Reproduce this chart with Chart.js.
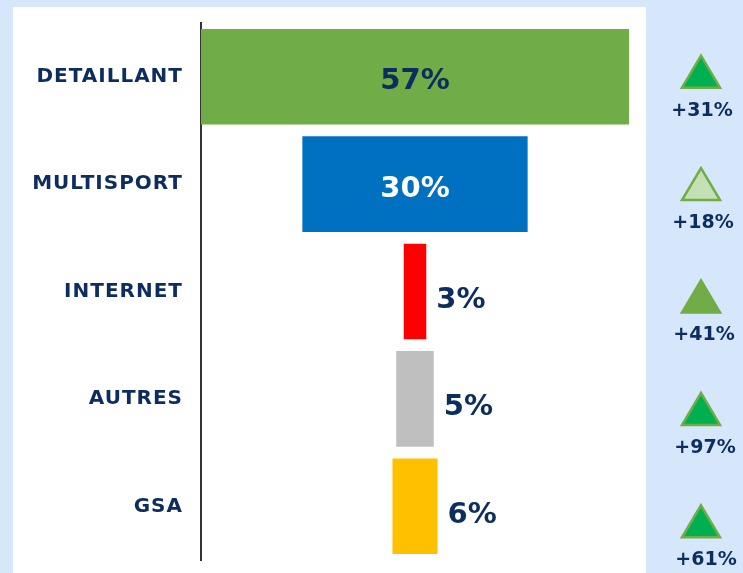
<!DOCTYPE html>
<html>
<head>
<meta charset="utf-8">
<script src="https://cdn.jsdelivr.net/npm/chart.js@4"></script>
<style>
  html, body { margin: 0; padding: 0; background: #d6e6fb; }
  #wrap { position: relative; width: 743px; height: 573px; overflow: hidden; }
  #panel { position: absolute; left: 13px; top: 7px; width: 633px; height: 580px; background: #fff; }
  #chart { position: absolute; left: 0; top: 0; }
</style>
</head>
<body>
<div id="wrap">
  <div id="panel"></div>
  <canvas id="chart" width="743" height="573"></canvas>
</div>
<script>
const categories = ['DETAILLANT', 'MULTISPORT', 'INTERNET', 'AUTRES', 'GSA'];
const shares = [57, 30, 3, 5, 6];
const changes = ['+31%', '+18%', '+41%', '+97%', '+61%'];

const NAVY = '#0c2d5e';
const barColors = ['#70ad47', '#0070c0', '#ff0000', '#bfbfbf', '#ffc000'];
const insideLabelColors = [NAVY, '#ffffff', NAVY, NAVY, NAVY];
const triFill = ['#00b050', '#c5e0b4', '#70ad47', '#00b050', '#00b050'];
const FONT = '"DejaVu Sans", sans-serif';

// bars centred on zero, like a funnel
const half = Math.max(...shares) / 2;

// wider category labels (letter spacing only for the axis ticks)
const spacingPlugin = {
    id: 'tickSpacing',
    beforeDraw(chart) { chart.ctx.letterSpacing = '1px'; },
    beforeDatasetsDraw(chart) { chart.ctx.letterSpacing = '0px'; }
};

const labelsPlugin = {
    id: 'funnelLabels',
    afterDatasetsDraw(chart) {
        const ctx = chart.ctx;
        const meta = chart.getDatasetMeta(0);
        ctx.save();
        ctx.textBaseline = 'middle';
        ctx.font = `bold 29px ${FONT}`;
        meta.data.forEach((bar, i) => {
            const txt = shares[i] + '%';
            const w = ctx.measureText(txt).width;
            const barW = bar.x - bar.base;
            if (Math.abs(barW) > w + 20) {
                ctx.textAlign = 'center';
                ctx.fillStyle = insideLabelColors[i];
                ctx.fillText(txt, (bar.x + bar.base) / 2, bar.y + 5);
            } else {
                ctx.textAlign = 'left';
                ctx.fillStyle = NAVY;
                ctx.fillText(txt, Math.max(bar.x, bar.base) + 10, bar.y + 9);
            }
        });

        // evolution markers on the right
        const cx = chart.chartArea.right + 72;
        meta.data.forEach((bar, i) => {
            const top = bar.y - 21 + i * 5;
            ctx.beginPath();
            ctx.moveTo(cx, top);
            ctx.lineTo(cx + 19, top + 32);
            ctx.lineTo(cx - 19, top + 32);
            ctx.closePath();
            ctx.fillStyle = triFill[i];
            ctx.fill();
            ctx.lineWidth = 2.5;
            ctx.strokeStyle = '#70ad47';
            ctx.stroke();

            ctx.font = `bold 19px ${FONT}`;
            ctx.textAlign = 'center';
            ctx.fillStyle = NAVY;
            ctx.fillText(changes[i], cx + 1 + i, top + 55);
        });
        ctx.restore();
    }
};

new Chart(document.getElementById('chart').getContext('2d'), {
    type: 'bar',
    data: {
        labels: categories,
        datasets: [{
            data: shares.map(v => [-v / 2, v / 2]),
            backgroundColor: barColors,
            borderWidth: 0,
            barPercentage: 0.89,
            categoryPercentage: 1
        }]
    },
    options: {
        indexAxis: 'y',
        responsive: false,
        animation: false,
        layout: { padding: { top: 23, bottom: 13, right: 114, left: 0 } },
        plugins: { legend: { display: false }, tooltip: { enabled: false } },
        scales: {
            x: { display: false, min: -half, max: half },
            y: {
                grid: { display: false },
                border: { display: true, color: '#333', width: 2 },
                ticks: { color: NAVY, font: { family: FONT, size: 20, weight: 'bold' }, padding: 10 },
                afterFit: s => { s.width = 201; s.paddingTop = 0; s.paddingBottom = 0; }
            }
        }
    },
    plugins: [spacingPlugin, labelsPlugin]
});
</script>
</body>
</html>
